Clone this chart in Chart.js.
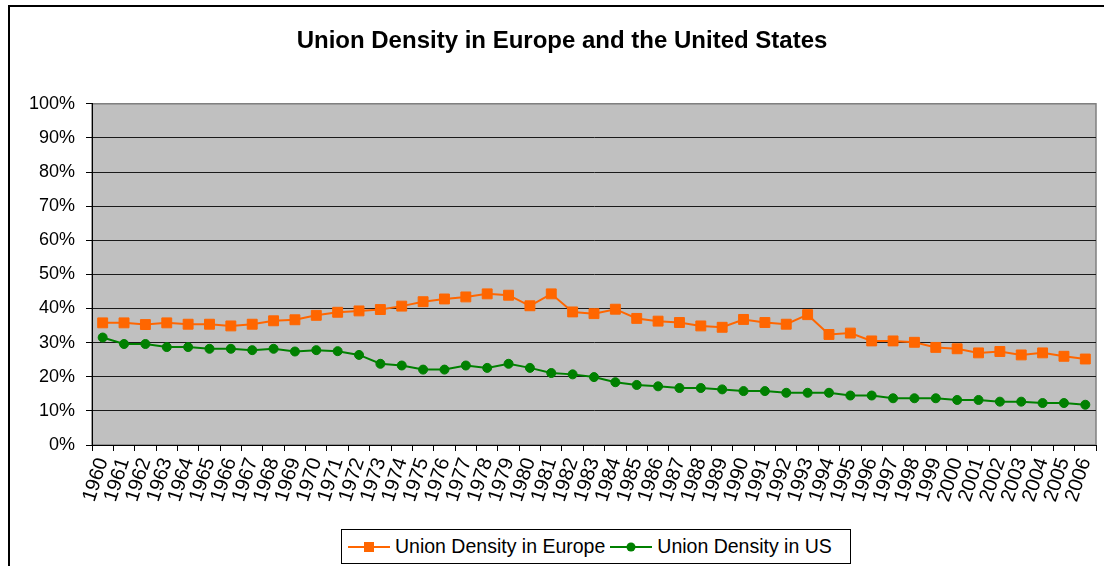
<!DOCTYPE html>
<html>
<head>
<meta charset="utf-8">
<script src="https://cdn.jsdelivr.net/npm/chart.js@4.4.1/dist/chart.umd.min.js"></script>
<style>
  html, body { margin: 0; padding: 0; background: #fff; overflow: hidden; }
  body { width: 1104px; height: 566px; position: relative; font-family: "Liberation Sans", Arial, sans-serif; }
  #frame { position: absolute; left: 8px; top: 5px; width: 1200px; height: 700px;
           border-top: 2px solid #000; border-left: 2px solid #000; }
  #chart { position: absolute; left: 0; top: 0; }
  #legend { position: absolute; left: 341px; top: 529px; width: 510px; height: 35px;
            border: 1px solid #000; background: #fff; display: flex; align-items: center;
            justify-content: flex-start; padding-left: 6px; box-sizing: border-box;
            gap: 5px; font-size: 19.5px; color: #000; }
  #legend .item { display: flex; align-items: center; gap: 5px; }
</style>
</head>
<body>
<div id="frame"></div>
<canvas id="chart" width="1104" height="566"></canvas>
<div id="legend">
  <div class="item">
    <svg width="42" height="12"><line x1="0" y1="6" x2="42" y2="6" stroke="#FF6600" stroke-width="2"/><rect x="16" y="1" width="10" height="10" fill="#FF6600"/></svg>
    <span>Union Density in Europe</span>
  </div>
  <div class="item">
    <svg width="42" height="12"><line x1="0" y1="6" x2="42" y2="6" stroke="#008000" stroke-width="2"/><circle cx="21" cy="6" r="4.5" fill="#008000"/></svg>
    <span>Union Density in US</span>
  </div>
</div>
<script>
const years = ['1960','1961','1962','1963','1964','1965','1966','1967','1968','1969',
  '1970','1971','1972','1973','1974','1975','1976','1977','1978','1979',
  '1980','1981','1982','1983','1984','1985','1986','1987','1988','1989',
  '1990','1991','1992','1993','1994','1995','1996','1997','1998','1999',
  '2000','2001','2002','2003','2004','2005','2006'];

// union density, percent
const europe = [35.8, 35.8, 35.3, 35.8, 35.4, 35.4, 34.9, 35.4, 36.4, 36.7,
  38.0, 38.9, 39.3, 39.7, 40.7, 42.0, 42.8, 43.4, 44.3, 43.9,
  40.8, 44.3, 39.0, 38.5, 39.8, 37.1, 36.3, 35.9, 34.9, 34.5,
  36.8, 35.9, 35.4, 38.2, 32.4, 32.8, 30.5, 30.5, 30.1, 28.6,
  28.2, 27.0, 27.4, 26.4, 27.0, 26.0, 25.2];

const us = [31.5, 29.6, 29.6, 28.7, 28.7, 28.2, 28.2, 27.8, 28.2, 27.4,
  27.8, 27.5, 26.4, 23.8, 23.3, 22.1, 22.1, 23.3, 22.6, 23.8,
  22.6, 21.1, 20.7, 19.9, 18.4, 17.6, 17.2, 16.7, 16.7, 16.3,
  15.8, 15.8, 15.3, 15.3, 15.3, 14.5, 14.5, 13.7, 13.7, 13.7,
  13.2, 13.2, 12.7, 12.7, 12.3, 12.3, 11.8];

const yTicks = [0, 10, 20, 30, 40, 50, 60, 70, 80, 90, 100];

const FONT = '"Liberation Sans", Arial, sans-serif';

// grey plot area with grey border, like excel
const plotBg = {
  id: 'plotBg',
  beforeDraw(chart) {
    const { ctx, chartArea: a } = chart;
    ctx.save();
    ctx.fillStyle = '#C0C0C0';
    ctx.fillRect(a.left, a.top, a.right - a.left, a.bottom - a.top);
    ctx.strokeStyle = '#808080';
    ctx.lineWidth = 1.5;
    ctx.strokeRect(a.left, a.top, a.right - a.left, a.bottom - a.top);
    ctx.restore();
  },
};

new Chart(document.getElementById('chart'), {
  type: 'line',
  data: {
    labels: years,
    datasets: [
      {
        label: 'Union Density in Europe',
        data: europe,
        borderColor: '#FF6600', backgroundColor: '#FF6600',
        borderWidth: 2, pointStyle: 'rect', pointRadius: 7,
        pointBorderWidth: 1, pointBorderColor: '#FF6600', pointBackgroundColor: '#FF6600',
        tension: 0,
      },
      {
        label: 'Union Density in US',
        data: us,
        borderColor: '#008000', backgroundColor: '#008000',
        borderWidth: 2, pointStyle: 'circle', pointRadius: 4.5,
        pointBorderWidth: 1, pointBorderColor: '#008000', pointBackgroundColor: '#008000',
        tension: 0,
      },
    ],
  },
  options: {
    responsive: false,
    animation: false,
    devicePixelRatio: 1,
    layout: { padding: { left: 27, right: 7, top: 0, bottom: 0 } },
    plugins: {
      legend: { display: false },
      tooltip: { enabled: false },
      title: {
        display: true,
        text: 'Union Density in Europe and the United States',
        color: '#000',
        font: { family: FONT, size: 24, weight: 'bold' },
        padding: { top: 27, bottom: 48 },
      },
    },
    scales: {
      x: {
        offset: true,
        afterFit: s => { s.height = 121; s.paddingRight = 0; s.paddingLeft = 0; },
        border: { color: '#000', width: 1 },
        grid: { drawOnChartArea: false, offset: true, tickLength: 6, tickColor: '#000' },
        ticks: {
          autoSkip: false, minRotation: 72, maxRotation: 72, padding: 4,
          color: '#000', font: { family: FONT, size: 20 },
        },
      },
      y: {
        min: 0, max: 100,
        afterFit: s => { s.width = 65; },
        afterBuildTicks: s => { s.ticks = yTicks.map(v => ({ value: v })); },
        border: { color: '#000', width: 1 },
        grid: {
          color: c => (c.tick && c.tick.value === 100 ? '#808080' : '#1a1a1a'),
          lineWidth: 1, tickLength: 6, tickColor: '#000',
        },
        ticks: {
          padding: 11, color: '#000', font: { family: FONT, size: 18 },
          callback: v => v + '%',
        },
      },
    },
  },
  plugins: [plotBg],
});
</script>
</body>
</html>
